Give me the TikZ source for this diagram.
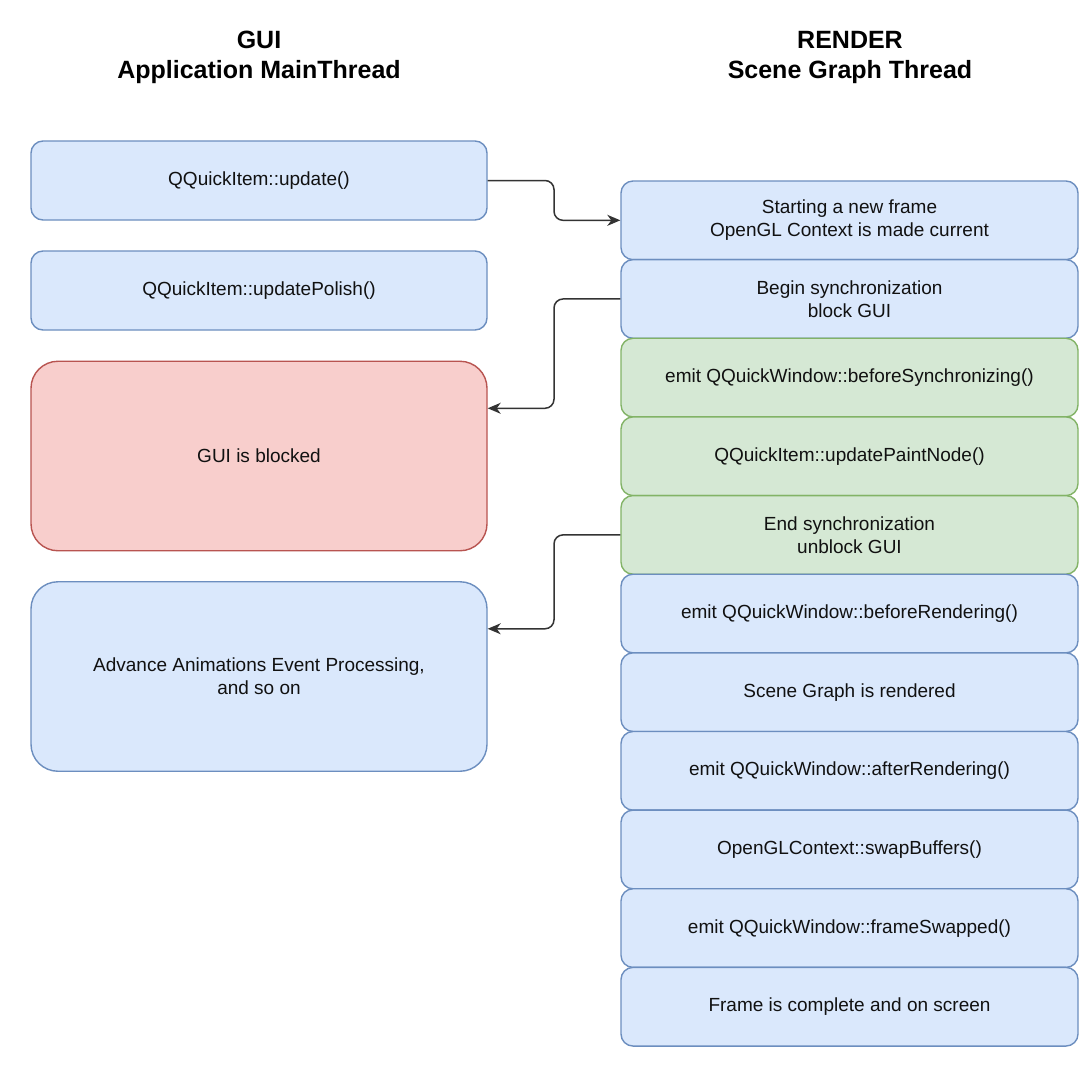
\documentclass[tikz,border=0pt]{standalone}
\usepackage{fontspec}
\setmainfont{Liberation Sans}
\usetikzlibrary{calc,arrows.meta}
\definecolor{bfill}{HTML}{DAE8FC}
\definecolor{bdraw}{HTML}{6C8EBF}
\definecolor{gfill}{HTML}{D5E8D4}
\definecolor{gdraw}{HTML}{82B366}
\definecolor{rfill}{HTML}{F8CECC}
\definecolor{rdraw}{HTML}{B85450}
\definecolor{txt}{HTML}{111111}
\begin{document}
\begin{tikzpicture}[x=1pt,y=-1pt,
  box/.style={draw, line width=1.4pt, rounded corners=12pt, inner sep=0pt,
    align=center, text=txt, font=\fontsize{19}{23}\selectfont},
  leftbox/.style={box, minimum width=456pt, minimum height=79pt},
  rightbox/.style={box, minimum width=457pt, minimum height=78.64pt},
  bluebox/.style={fill=bfill, draw=bdraw},
  greenbox/.style={fill=gfill, draw=gdraw},
  redbox/.style={fill=rfill, draw=rdraw},
  bigbox/.style={rounded corners=27pt, minimum height=189.5pt},
  title/.style={align=center, font=\fontsize{25}{30}\selectfont\bfseries, text=black},
  conn/.style={draw=black!80, line width=1.5pt, rounded corners=9pt,
    -{Stealth[length=13pt,width=11pt,inset=4pt]}}
]
\useasboundingbox[fill=white] (0,0) rectangle (1092,1077);

% titles
\node[title] (tgui) at (259,57) {GUI\\Application MainThread};
\node[title] (trender) at (850,57) {RENDER\\Scene Graph Thread};

% left column
\node[leftbox, bluebox] (l1) at (259,180.5) {QQuickItem::update()};
\node[leftbox, bluebox] (l2) at (259,290.5) {QQuickItem::updatePolish()};
\node[leftbox, redbox, bigbox] (l3) at (259,456) {GUI is blocked};
\node[leftbox, bluebox, bigbox] (l4) at (259,676.5) {Advance Animations Event Processing,\\and so on};

% right column
\node[rightbox, bluebox]  (r1)  at (849.5,220.32) {Starting a new frame\\OpenGL Context is made current};
\node[rightbox, bluebox]  (r2)  at (849.5,298.96) {Begin synchronization\\block GUI};
\node[rightbox, greenbox] (r3)  at (849.5,377.60) {emit QQuickWindow::beforeSynchronizing()};
\node[rightbox, greenbox] (r4)  at (849.5,456.24) {QQuickItem::updatePaintNode()};
\node[rightbox, greenbox] (r5)  at (849.5,534.88) {End synchronization\\unblock GUI};
\node[rightbox, bluebox]  (r6)  at (849.5,613.52) {emit QQuickWindow::beforeRendering()};
\node[rightbox, bluebox]  (r7)  at (849.5,692.16) {Scene Graph is rendered};
\node[rightbox, bluebox]  (r8)  at (849.5,770.80) {emit QQuickWindow::afterRendering()};
\node[rightbox, bluebox]  (r9)  at (849.5,849.44) {OpenGLContext::swapBuffers()};
\node[rightbox, bluebox]  (r10) at (849.5,928.08) {emit QQuickWindow::frameSwapped()};
\node[rightbox, bluebox]  (r11) at (849.5,1006.72) {Frame is complete and on screen};

% connectors
\coordinate (q3) at ($(l3.north east)!0.25!(l3.south east)$);
\coordinate (q4) at ($(l4.north east)!0.25!(l4.south east)$);
\draw[conn] (l1.east) -| ($(l1.east)!0.5!(r1.west)$) |- (r1.west);
\draw[conn] (r2.west) -| ($(r2.west)!0.5!(q3)$) |- (q3);
\draw[conn] (r5.west) -| ($(r5.west)!0.5!(q4)$) |- (q4);
\end{tikzpicture}
\end{document}
